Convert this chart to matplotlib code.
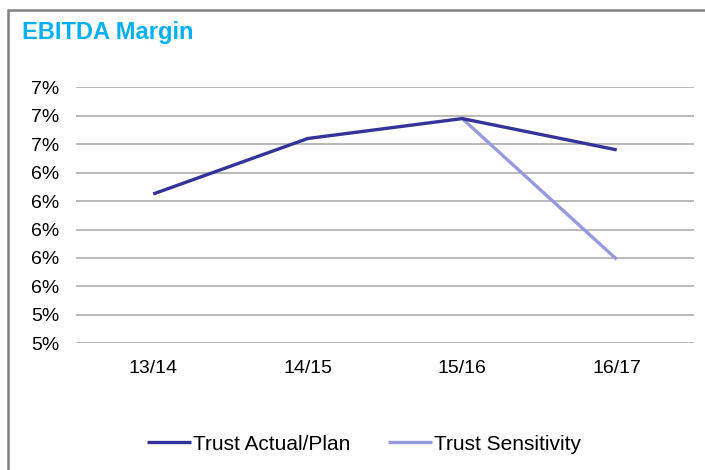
import numpy as np
import matplotlib
matplotlib.use("Agg")
import matplotlib.pyplot as plt
from matplotlib.ticker import FuncFormatter, MultipleLocator
from matplotlib.patches import Rectangle

plt.rcParams['font.family'] = ['Liberation Sans', 'DejaVu Sans']

years = ["13/14", "14/15", "15/16", "16/17"]
actual_plan = [6.25, 6.64, 6.78, 6.56]
sensitivity = [None, None, 6.78, 5.79]

fig = plt.figure(figsize=(7.05, 4.70), dpi=100)
ax = fig.add_axes([76 / 705, 1 - 343.3 / 470, (694 - 76) / 705, (343.3 - 87.3) / 470])

x = np.arange(len(years))
sens = np.array([np.nan if v is None else v for v in sensitivity], dtype=float)
ax.plot(x, actual_plan, color='#333399', lw=2.4, label="Trust Actual/Plan",
        solid_capstyle='butt', zorder=3)
ax.plot(x, sens, color='#9999E0', lw=2.4, label="Trust Sensitivity",
        solid_capstyle='butt', zorder=2)

ax.set_xlim(-0.5, len(years) - 0.5)
ax.set_ylim(5.2, 7.0)
ax.yaxis.set_major_locator(MultipleLocator(0.2))
ax.yaxis.set_major_formatter(FuncFormatter(lambda v, p: "{:.0f}%".format(v)))
ax.set_xticks(x)
ax.set_xticklabels(years)
ax.tick_params(axis='both', length=0, labelsize=14, colors='black')
ax.tick_params(axis='y', pad=12)
ax.tick_params(axis='x', pad=12)
ax.grid(axis='y', color='#A6A6A6', lw=1.1)
ax.set_axisbelow(True)
for s in ax.spines.values():
    s.set_visible(False)

fig.text(22 / 705, 1 - 32 / 470, "EBITDA Margin", color='#00B0F0', fontsize=17,
         fontweight='bold', va='center', ha='left')

leg = fig.legend(loc='center', bbox_to_anchor=(364 / 705, 1 - 444 / 470), ncol=2, frameon=False,
                 fontsize=15, handlelength=2.1, handletextpad=0.1, columnspacing=1.8)

fig.patches.append(Rectangle((8 / 705, -0.1), 1.2, 1 - 10 / 470 + 0.1, transform=fig.transFigure,
                             fill=False, edgecolor='#808080', lw=1.8))

fig.savefig("out.png", dpi=100)
